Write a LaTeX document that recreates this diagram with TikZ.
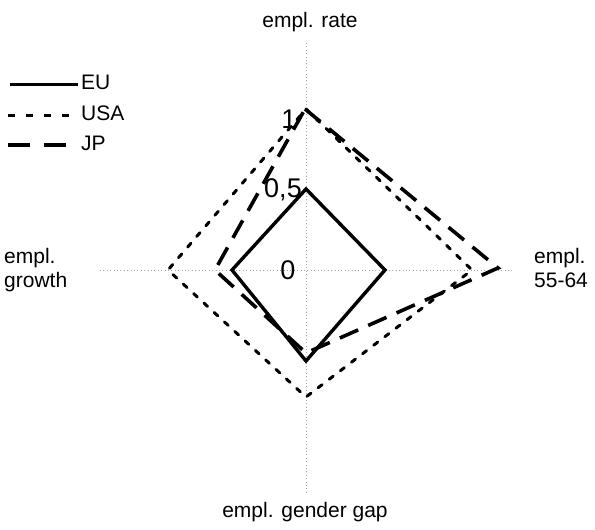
\documentclass[tikz,border=0pt]{standalone}
\usepackage{fontspec}
\setmainfont{Liberation Sans}
\begin{document}
\begin{tikzpicture}[x=1pt,y=-1pt,
  axisline/.style={draw=gray!70,line width=0.7pt,dash pattern=on 0.8pt off 2.6pt},
  eu/.style={draw=black,line width=3.4pt,line join=miter},
  usa/.style={draw=black,line width=3pt,dash pattern=on 5pt off 9pt,line cap=round},
  jp/.style={draw=black,line width=3.6pt,dash pattern=on 20pt off 11pt},
  lbl/.style={font=\fontsize{21}{24}\selectfont,inner sep=0pt,align=left},
  tick/.style={font=\fontsize{27}{30}\selectfont,inner sep=0pt}]
\useasboundingbox (0,0) rectangle (595,530);
\fill[white] (0,0) rectangle (595,530);
% axes
\coordinate (O) at (306,270);
\coordinate (AT) at (306,43);
\coordinate (AB) at (306,493);
\coordinate (AL) at (100,270);
\coordinate (AR) at (512,270);
\draw[axisline] (AT) -- (AB);
\draw[axisline] (AL) -- (AR);
% axis labels
\node[lbl] (lrate) at (310,22) {empl. rate};
\node[lbl] (lgap) at (305,512) {empl. gender gap};
\node[lbl,anchor=west] (lgrowth) at (4,270) {empl.\\growth};
\node[lbl,anchor=west] (l5564) at (534,268) {empl.\\55-64};
% tick labels
\node[tick] (t1) at (289,119) {1};
\node[tick] (t05) at (283,190) {0,5};
\node[tick] (t0) at (288,270) {0};
% series vertices
\coordinate (euT) at (306,189);
\coordinate (euR) at (385,270);
\coordinate (euB) at (306,361);
\coordinate (euL) at (232,270);
\coordinate (usT) at (306,109);
\coordinate (usR) at (472,270);
\coordinate (usB) at (306,397);
\coordinate (usL) at (168,270);
\coordinate (jpT) at (305,109);
\coordinate (jpR) at (498,268);
\coordinate (jpB) at (306,353);
\coordinate (jpL) at (215,270);
% polygons
\draw[usa] (usT) -- (usR) -- (usB) -- (usL) -- cycle;
\draw[jp] (jpT) -- (jpR) -- (jpB) -- (jpL) -- cycle;
\draw[eu] (euT) -- (euR) -- (euB) -- (euL) -- cycle;
% legend
\coordinate (k1a) at (10,84);
\coordinate (k1b) at (78,84);
\coordinate (k2a) at (8,115);
\coordinate (k2b) at (78,115);
\coordinate (k3a) at (8,145);
\coordinate (k3b) at (72,145);
\draw[eu,line width=3pt] (k1a) -- (k1b);
\draw[usa,dash pattern=on 7pt off 11pt,line cap=butt] (k2a) -- (k2b);
\draw[jp,dash pattern=on 22pt off 14pt] (k3a) -- (k3b);
\node[lbl,anchor=west] (keu) at (81,82) {EU};
\node[lbl,anchor=west] (kusa) at (81,113) {USA};
\node[lbl,anchor=west] (kjp) at (81,143) {JP};
\end{tikzpicture}
\end{document}
